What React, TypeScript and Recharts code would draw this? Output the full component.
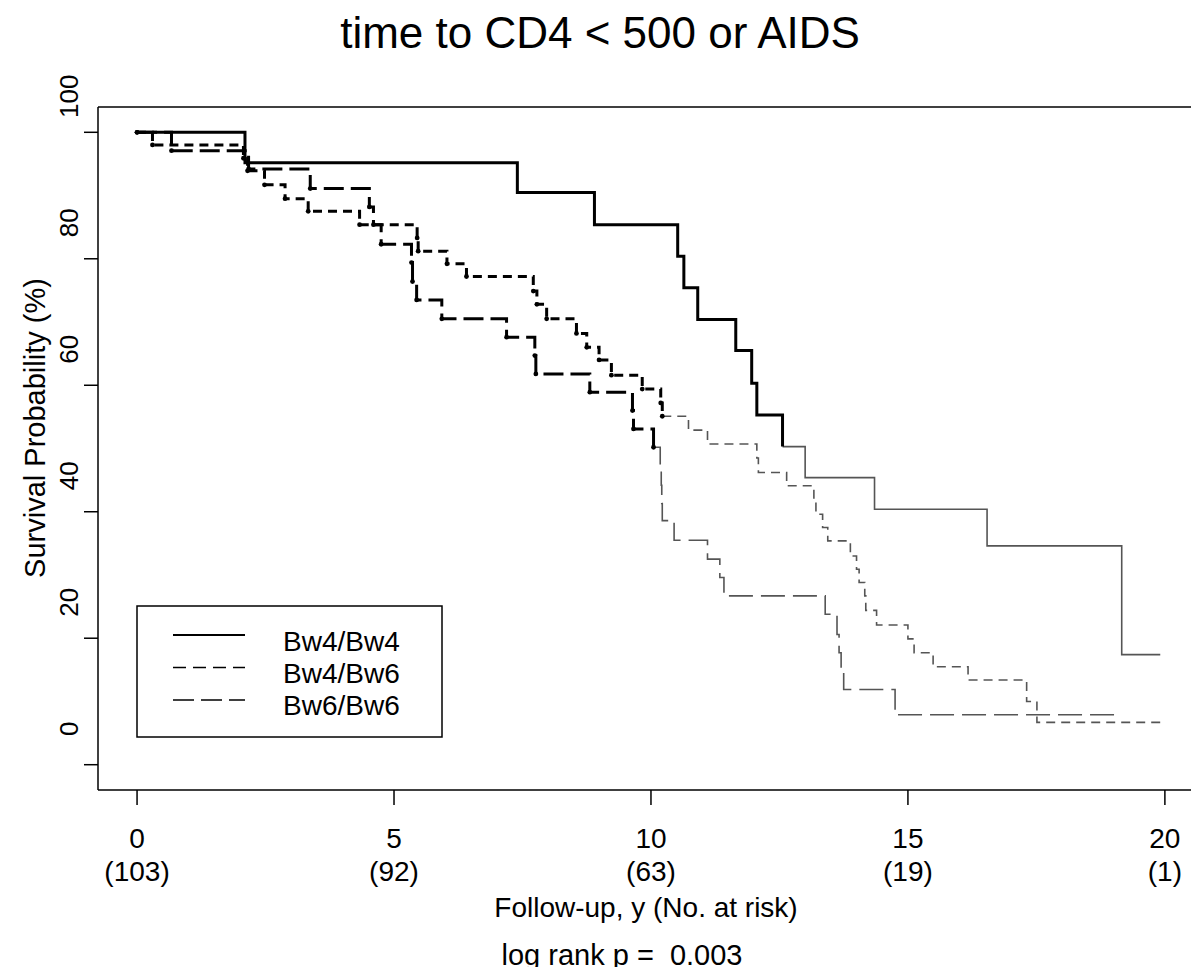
import { LineChart, Line, XAxis, YAxis, ReferenceLine } from "recharts";

// Kaplan-Meier steps: t = years, s = survival (%)
const bw4bw4 = [
  { t: 0, s: 100 }, { t: 2.1, s: 95.2 }, { t: 7.4, s: 90.5 }, { t: 8.9, s: 85.4 },
  { t: 10.52, s: 80.4 }, { t: 10.64, s: 75.4 }, { t: 10.91, s: 70.4 }, { t: 11.65, s: 65.5 },
  { t: 11.96, s: 60.3 }, { t: 12.06, s: 55.3 }, { t: 12.56, s: 50.3 }, { t: 13.0, s: 45.4 },
  { t: 14.35, s: 40.4 }, { t: 16.54, s: 34.6 }, { t: 19.16, s: 17.4 }, { t: 19.91, s: 17.4 },
];

const bw4bw6 = [
  { t: 0, s: 100 }, { t: 0.3, s: 98.0 }, { t: 2.07, s: 95.9 }, { t: 2.15, s: 93.9 },
  { t: 2.48, s: 91.7 }, { t: 2.88, s: 89.5 }, { t: 3.33, s: 87.5 }, { t: 4.33, s: 85.4 },
  { t: 5.45, s: 83.3 }, { t: 5.47, s: 81.2 }, { t: 6.03, s: 79.2 }, { t: 6.41, s: 77.2 },
  { t: 7.71, s: 74.9 }, { t: 7.78, s: 72.8 }, { t: 7.97, s: 70.5 }, { t: 8.55, s: 68.2 },
  { t: 8.75, s: 66.0 }, { t: 8.99, s: 64.0 }, { t: 9.23, s: 61.6 }, { t: 9.83, s: 59.4 },
  { t: 10.19, s: 57.2 }, { t: 10.22, s: 55.1 }, { t: 10.73, s: 52.9 }, { t: 11.1, s: 50.7 },
  { t: 12.06, s: 48.5 }, { t: 12.09, s: 46.2 }, { t: 12.64, s: 44.1 }, { t: 13.17, s: 41.7 },
  { t: 13.21, s: 39.6 }, { t: 13.34, s: 37.5 }, { t: 13.44, s: 35.4 }, { t: 13.88, s: 33.0 },
  { t: 14.0, s: 30.9 }, { t: 14.05, s: 28.8 }, { t: 14.16, s: 26.7 }, { t: 14.18, s: 24.4 },
  { t: 14.39, s: 22.1 }, { t: 15.0, s: 19.9 }, { t: 15.12, s: 17.7 }, { t: 15.49, s: 15.5 },
  { t: 16.17, s: 13.4 }, { t: 17.31, s: 10.0 }, { t: 17.51, s: 6.7 }, { t: 19.97, s: 6.7 },
];

const bw6bw6 = [
  { t: 0, s: 100 }, { t: 0.67, s: 97.1 }, { t: 2.17, s: 94.2 }, { t: 3.37, s: 91.1 },
  { t: 4.52, s: 88.2 }, { t: 4.6, s: 85.4 }, { t: 4.75, s: 82.3 }, { t: 5.34, s: 79.4 },
  { t: 5.36, s: 76.4 }, { t: 5.44, s: 73.5 }, { t: 5.93, s: 70.5 }, { t: 7.19, s: 67.6 },
  { t: 7.74, s: 64.7 }, { t: 7.76, s: 61.8 }, { t: 8.81, s: 58.9 }, { t: 9.64, s: 56.0 },
  { t: 9.66, s: 53.1 }, { t: 10.05, s: 50.2 }, { t: 10.18, s: 47.1 }, { t: 10.2, s: 44.2 },
  { t: 10.21, s: 41.3 }, { t: 10.22, s: 38.6 }, { t: 10.45, s: 35.5 }, { t: 11.1, s: 32.5 },
  { t: 11.34, s: 29.6 }, { t: 11.42, s: 26.7 }, { t: 13.39, s: 23.8 }, { t: 13.62, s: 20.6 },
  { t: 13.66, s: 17.7 }, { t: 13.7, s: 14.9 }, { t: 13.75, s: 11.9 }, { t: 14.75, s: 7.9 },
  { t: 19.15, s: 7.9 },
];

const xTicks = [0, 5, 10, 15, 20];
const atRisk = [103, 92, 63, 19, 1];
const yTicks = [0, 20, 40, 60, 80, 100];

const FONT = "Arial, 'Liberation Sans', Helvetica, sans-serif";

// the print is heavy early on and fades after ~10 y, so each curve is split in two
const groups = [
  { name: "Bw4/Bw4", data: bw4bw4, cut: 12.56, dash: undefined, thinDash: undefined, legendDash: undefined, dots: false },
  { name: "Bw4/Bw6", data: bw4bw6, cut: 10.22, dash: "9 6", thinDash: "9 6", legendDash: "13 7", dots: true },
  { name: "Bw6/Bw6", data: bw6bw6, cut: 10.05, dash: "20 7", thinDash: "24 8", legendDash: "21 7", dots: true },
];

const XTick = ({ x, payload }: any) => {
  const i = xTicks.indexOf(payload.value);
  return (
    <g fontFamily={FONT} fontSize={28} fill="#000">
      <text x={x} y={848} textAnchor="middle">{payload.value}</text>
      <text x={x} y={881} textAnchor="middle">({atRisk[i]})</text>
    </g>
  );
};

// labels sit ~36px above their tick marks in the scanned figure
const YTick = ({ y, payload }: any) => {
  const cy = y - 36;
  return (
    <text
      x={69}
      y={cy}
      transform={`rotate(-90 69 ${cy})`}
      textAnchor="middle"
      dominantBaseline="central"
      fontFamily={FONT}
      fontSize={26}
      fill="#000"
    >
      {payload.value}
    </text>
  );
};

export default function App() {
  return (
    <div
      style={{
        position: "relative",
        width: 1199,
        height: 975,
        margin: -8,
        overflow: "hidden",
        background: "#fff",
        fontFamily: FONT,
      }}
    >
      <LineChart width={1215} height={975} margin={{ top: 107, right: 9, bottom: 155, left: 58 }}>
        <XAxis
          type="number"
          dataKey="t"
          domain={[-0.76, 20.8]}
          allowDataOverflow
          ticks={xTicks}
          tickSize={15}
          height={30}
          stroke="#000"
          strokeWidth={1.5}
          tick={<XTick />}
        />
        <YAxis
          type="number"
          domain={[-4, 104]}
          allowDataOverflow
          ticks={yTicks}
          tickSize={14}
          width={40}
          stroke="#000"
          strokeWidth={1.5}
          tick={<YTick />}
        />
        <ReferenceLine y={104} stroke="#000" strokeWidth={1.5} />
        {groups.map((g) => (
          <Line
            key={g.name + "-late"}
            data={g.data.filter((d) => d.t >= g.cut)}
            dataKey="s"
            type="stepAfter"
            stroke="#555"
            strokeWidth={1.6}
            strokeDasharray={g.thinDash}
            dot={false}
            isAnimationActive={false}
          />
        ))}
        {groups.map((g) => (
          <Line
            key={g.name + "-early"}
            data={g.data.filter((d) => d.t <= g.cut)}
            dataKey="s"
            type="stepAfter"
            stroke="#000"
            strokeWidth={3}
            strokeDasharray={g.dash}
            dot={g.dots ? { r: 2.4, fill: "#000", stroke: "none" } : false}
            isAnimationActive={false}
          />
        ))}
      </LineChart>

      <svg
        width={1199}
        height={975}
        style={{ position: "absolute", left: 0, top: 0, pointerEvents: "none" }}
        fontFamily={FONT}
      >
        <text x={600} y={48} textAnchor="middle" fontSize={44}>
          time to CD4 &lt; 500 or AIDS
        </text>
        <text x={45} y={428} transform="rotate(-90 45 428)" textAnchor="middle" fontSize={29}>
          Survival Probability (%)
        </text>
        <text x={646} y={917} textAnchor="middle" fontSize={28}>
          Follow-up, y (No. at risk)
        </text>
        <text x={622} y={965} textAnchor="middle" fontSize={29} style={{ whiteSpace: "pre" }}>
          {"log rank p =  0.003"}
        </text>

        <rect x={137} y={606} width={305} height={131} fill="#fff" stroke="#000" strokeWidth={1.5} />
        {groups.map((g, i) => (
          <g key={g.name}>
            <line
              x1={173}
              x2={245}
              y1={635 + i * 32.5}
              y2={635 + i * 32.5}
              stroke="#000"
              strokeWidth={i === 0 ? 2 : 1.6}
              strokeDasharray={g.legendDash}
            />
            <text x={283} y={651 + i * 32} fontSize={28}>
              {g.name}
            </text>
          </g>
        ))}
      </svg>
    </div>
  );
}
